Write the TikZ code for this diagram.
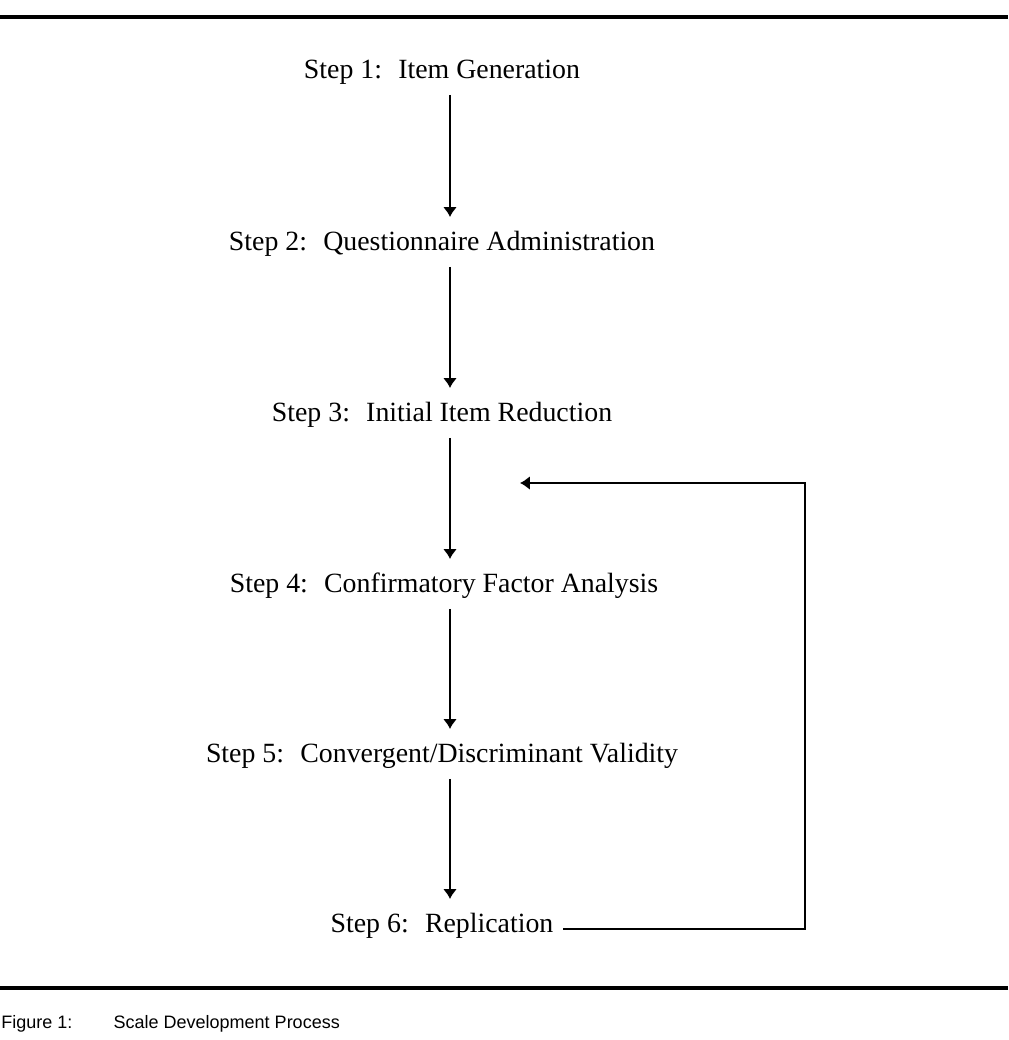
\documentclass[tikz,border=0pt]{standalone}
\usepackage{fontspec}
\setmainfont{Liberation Serif}
\newfontfamily\captionfont{Liberation Sans}
\usetikzlibrary{arrows.meta}

\begin{document}
\begin{tikzpicture}[x=0.025cm,y=-0.025cm]
    \tikzstyle{stepbox}=[inner sep=0pt,anchor=base,font=\fontsize{19.8}{24}\selectfont,text height=13.9pt,text depth=4.4pt]
    \tikzstyle{arrow}=[draw,line width=1.4pt,-{Latex[length=7pt,width=10pt]},shorten <=7.4pt,shorten >=9.4pt]
    \tikzstyle{feedback}=[draw,line width=1.4pt,-{Latex[length=7pt,width=10pt]},shorten <=7pt]
    \tikzstyle{rule}=[draw,line width=2.8pt]
    \tikzstyle{caption}=[inner sep=0pt,anchor=base west,font=\captionfont\fontsize{12.8}{15}\selectfont]

    \useasboundingbox (0,0) rectangle (1008,1040);
    \path[rule] (0,17) -- (1008,17);
    \path[rule] (0,988) -- (1008,988);

    \coordinate (axis) at (450,0);
    \coordinate (rail) at (805,0);
    \coordinate (back) at (520,483);

    \node[stepbox] (step1) at (442,78) {Step 1:~ Item Generation};
    \node[stepbox] (step2) at (442,250) {Step 2:~ Questionnaire Administration};
    \node[stepbox] (step3) at (442,421) {Step 3:~ Initial Item Reduction};
    \node[stepbox] (step4) at (444,592) {Step 4:~ Confirmatory Factor Analysis};
    \node[stepbox] (step5) at (442,762) {Step 5:~ Convergent/Discriminant Validity};
    \node[stepbox] (step6) at (442,932) {Step 6:~ Replication};
    \node[caption] (fig) at (1,1028) {Figure 1:\hspace{2.3em}Scale Development Process};

    \path[arrow] (step1.south -| axis) -- (step2.north -| axis);
    \path[arrow] (step2.south -| axis) -- (step3.north -| axis);
    \path[arrow] (step3.south -| axis) -- (step4.north -| axis);
    \path[arrow] (step4.south -| axis) -- (step5.north -| axis);
    \path[arrow] (step5.south -| axis) -- (step6.north -| axis);
    \path[feedback] ([yshift=-2.5pt]step6.east) -- ([yshift=-2.5pt]step6.east -| rail) |- (back);
\end{tikzpicture}
\end{document}
